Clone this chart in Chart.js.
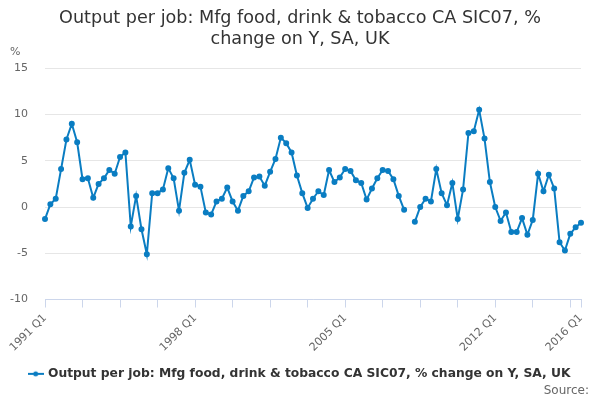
<!DOCTYPE html>
<html>
<head>
<meta charset="utf-8">
<script src="https://cdn.jsdelivr.net/npm/chart.js@4"></script>
<style>
  html, body { margin: 0; padding: 0; background: #fff; }
  #wrap { width: 600px; height: 400px; }
</style>
</head>
<body>
<div id="wrap"><canvas id="chart"></canvas></div>
<script>
// quarters 1991 Q1 .. 2016 Q1
const years = [];
for (let y = 1991; y <= 2016; y++) years.push(y);
const quarters = [];
years.forEach(y => ["Q1", "Q2", "Q3", "Q4"].forEach(q => quarters.push(y + " " + q)));
quarters.length = 101;

// labelled ticks on the x axis
const tickLabels = ["1991 Q1", "1998 Q1", "2005 Q1", "2012 Q1", "2016 Q1"];

// % change on year (null = no value)
const values = [
  -1.3, 0.3, 0.9, 4.1, 7.3, 9.0, 7.0, 3.0,      // 1991-92
  3.1, 1.0, 2.5, 3.1, 4.0, 3.6, 5.4, 5.9,        // 1993-94
  -2.1, 1.2, -2.4, -5.1, 1.5, 1.5, 1.9, 4.2,     // 1995-96
  3.1, -0.4, 3.7, 5.1, 2.4, 2.2, -0.6, -0.8,     // 1997-98
  0.6, 0.9, 2.1, 0.6, -0.4, 1.2, 1.7, 3.2,       // 1999-00
  3.3, 2.3, 3.8, 5.2, 7.5, 6.9, 5.9, 3.4,        // 2001-02
  1.5, -0.1, 0.9, 1.7, 1.3, 4.0, 2.7, 3.2,       // 2003-04
  4.1, 3.9, 2.9, 2.6, 0.8, 2.0, 3.1, 4.0,        // 2005-06
  3.9, 3.0, 1.2, -0.3, null, -1.6, 0.0, 0.9,     // 2007-08
  0.6, 4.1, 1.5, 0.2, 2.6, -1.3, 1.9, 8.0,       // 2009-10
  8.2, 10.5, 7.4, 2.7, 0.0, -1.5, -0.6, -2.7,    // 2011-12
  -2.7, -1.2, -3.0, -1.4, 3.6, 1.7, 3.5, 2.0,    // 2013-14
  -3.8, -4.7, -2.9, -2.2, -1.7                   // 2015-16 Q1
];

const seriesName = "Output per job: Mfg food, drink & tobacco CA SIC07, % change on Y, SA, UK";
const titleLines = ["Output per job: Mfg food, drink & tobacco CA SIC07, %", "change on Y, SA, UK"];
const lineColor = "#0a7dc2";

// legend symbol: short line with a dot
const legendIcon = document.createElement("canvas");
legendIcon.width = 16;
legendIcon.height = 8;
const ictx = legendIcon.getContext("2d");
ictx.strokeStyle = lineColor;
ictx.lineWidth = 2;
ictx.beginPath();
ictx.moveTo(0, 4);
ictx.lineTo(16, 4);
ictx.stroke();
ictx.fillStyle = lineColor;
ictx.beginPath();
ictx.arc(8, 4, 2.5, 0, Math.PI * 2);
ictx.fill();

// extra texts: "%" over the y axis, "Source:" bottom right
const extraText = {
  id: "extraText",
  afterDraw(chart) {
    const ctx = chart.ctx;
    ctx.save();
    ctx.fillStyle = "#666";
    ctx.font = "11px 'DejaVu Sans'";
    ctx.textBaseline = "middle";
    ctx.textAlign = "left";
    ctx.fillText("%", 10, 52);
    ctx.font = "12px 'DejaVu Sans'";
    ctx.textAlign = "right";
    ctx.fillText("Source:", 589, 391);
    ctx.restore();
  }
};

Chart.defaults.font.family = "'DejaVu Sans', sans-serif";

new Chart(document.getElementById("chart"), {
  type: "line",
  plugins: [extraText],
  data: {
    labels: quarters,
    datasets: [{
      label: seriesName,
      data: values,
      borderColor: lineColor,
      backgroundColor: lineColor,
      borderWidth: 2,
      pointRadius: 2,
      pointHoverRadius: 3,
      pointStyle: "circle",
      tension: 0,
      spanGaps: false
    }]
  },
  options: {
    responsive: true,
    maintainAspectRatio: false,
    animation: false,
    layout: { padding: { left: 0, right: 0, top: 0, bottom: 10 } },
    plugins: {
      title: {
        display: true,
        text: titleLines,
        color: "#333",
        font: { size: 17.6, weight: "normal" },
        padding: { top: 8, bottom: 18 }
      },
      legend: {
        display: true,
        position: "bottom",
        labels: {
          color: "#333",
          font: { size: 12.3, weight: "bold" },
          usePointStyle: true,
          pointStyle: legendIcon,
          padding: 9.5
        }
      },
      tooltip: { enabled: false }
    },
    scales: {
      x: {
        offset: false,
        grid: {
          drawOnChartArea: false,
          drawTicks: true,
          tickLength: 8,
          color: "#ccd6eb"
        },
        border: { color: "#ccd6eb" },
        ticks: {
          autoSkip: false,
          minRotation: 45,
          maxRotation: 45,
          padding: 4,
          color: "#666",
          font: { size: 11 },
          callback: function (val, i) {
            const lab = quarters[i];
            if (tickLabels.includes(lab)) return lab;
            if (i % 7 === 0) return "";
            return null;
          }
        }
      },
      y: {
        min: -10,
        max: 15,
        afterFit(scale) { scale.width = 45; },
        grid: { color: "#e6e6e6", drawTicks: false },
        border: { display: false },
        ticks: {
          stepSize: 5,
          color: "#666",
          font: { size: 11 },
          padding: 17
        }
      },
      // empty right-hand strip so the plot ends at x = 581
      yRight: {
        position: "right",
        min: -10,
        max: 15,
        afterFit(scale) { scale.width = 19; },
        grid: { display: false },
        border: { display: false },
        ticks: { display: false }
      }
    }
  }
});
</script>
</body>
</html>
